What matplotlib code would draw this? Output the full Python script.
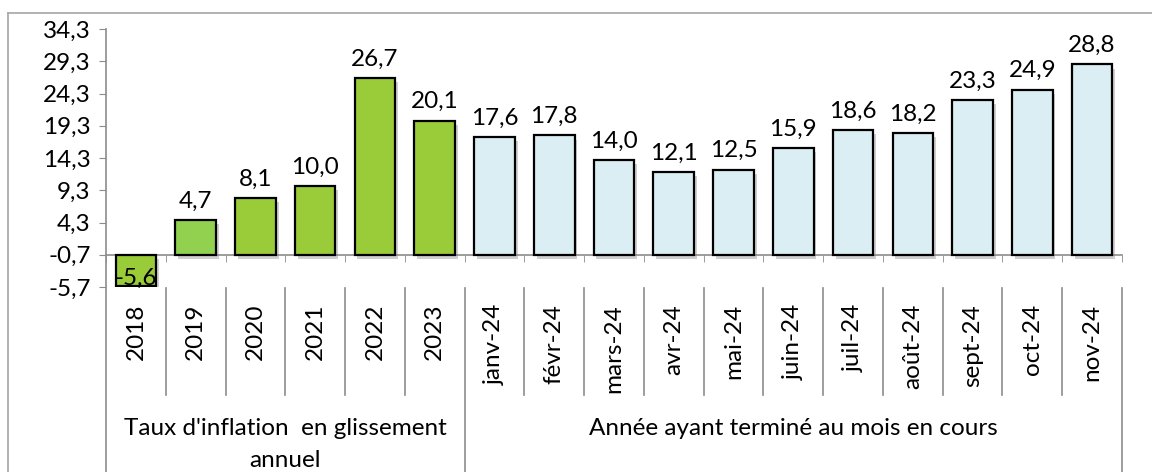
import numpy as np
import matplotlib.pyplot as plt
from matplotlib import patheffects as pe
from matplotlib.lines import Line2D

plt.rcParams['font.family'] = ['Lato', 'DejaVu Sans']

categories = ['2018', '2019', '2020', '2021', '2022', '2023',
              'janv-24', 'févr-24', 'mars-24', 'avr-24', 'mai-24', 'juin-24',
              'juil-24', 'août-24', 'sept-24', 'oct-24', 'nov-24']
values = [-5.6, 4.7, 8.1, 10.0, 26.7, 20.1,
          17.6, 17.8, 14.0, 12.1, 12.5, 15.9, 18.6, 18.2, 23.3, 24.9, 28.8]
groups = ["Taux d'inflation  en glissement\nannuel",
          "Année ayant terminé au mois en cours"]
group_sizes = [6, 11]
yticks = [-5.7, -0.7, 4.3, 9.3, 14.3, 19.3, 24.3, 29.3, 34.3]

base = -0.7
colors = ['#9ACB38', '#92D050'] + ['#9ACB38'] * 4 + ['#DAEEF3'] * 11
gray = '#8c8c8c'

fig = plt.figure(figsize=(11.52, 4.72), dpi=100)
W, H = 1152, 472
ax = fig.add_axes([106 / W, 1 - 287 / H, (1122 - 106) / W, (287 - 29) / H])

x = np.arange(len(values))
bars = ax.bar(x, np.array(values) - base, bottom=base, width=0.68,
              color=colors, edgecolor='black', linewidth=1.6, zorder=3)
for b in bars:
    b.set_path_effects([pe.SimplePatchShadow(offset=(2, -3), shadow_rgbFace='#777777', alpha=0.35),
                        pe.Normal()])

fs = 17.5
for xi, v in zip(x, values):
    lab = f'{v:.1f}'.replace('.', ',')
    if v < 0:
        ax.annotate(lab, (xi, v), xytext=(0, -2), textcoords='offset points',
                    ha='center', va='bottom', fontsize=fs, zorder=5)
    else:
        ax.annotate(lab, (xi, v), xytext=(0, 6), textcoords='offset points',
                    ha='center', va='bottom', fontsize=fs)

ax.set_xlim(-0.5, len(values) - 0.5)
ax.set_ylim(yticks[0], yticks[-1])
ax.set_yticks(yticks)
ax.set_yticklabels([f'{t:.1f}'.replace('.', ',') for t in yticks], fontsize=fs)
ax.tick_params(axis='y', length=5, color=gray, pad=6)

for s in ['top', 'right']:
    ax.spines[s].set_visible(False)
ax.spines['left'].set_color(gray)
ax.spines['left'].set_linewidth(1.2)
ax.spines['bottom'].set_position(('data', base))
ax.spines['bottom'].set_color(gray)
ax.spines['bottom'].set_linewidth(1.2)
ax.set_xticks([])
ax.set_xticks(np.arange(len(values) + 1) - 0.5, minor=True)
ax.tick_params(axis='x', which='minor', length=5, color=gray)

# category labels and separators below the plot
tr = ax.get_xaxis_transform()
def yfrac(py):
    return (287 - py) / 258

for xi, c in zip(x, categories):
    ax.text(xi, yfrac(304), c, rotation=90, ha='center', va='top',
            fontsize=fs, transform=tr)

bounds = np.cumsum([0] + group_sizes) - 0.5
for i in range(len(values) + 1):
    xb = i - 0.5
    y_end = yfrac(472) if xb in bounds else yfrac(395)
    ax.add_line(Line2D([xb, xb], [yfrac(288), y_end], transform=tr,
                       color=gray, lw=1.2, clip_on=False))

start = 0
for g, n in zip(groups, group_sizes):
    cx = start + (n - 1) / 2
    ax.text(cx, yfrac(418), g, ha='center', va='top', fontsize=fs,
            linespacing=1.65, transform=tr)
    start += n

# chart border
fig.add_artist(Line2D([8 / W, 8 / W], [0, 1 - 13 / H], color='#a6a6a6', lw=1.2))
fig.add_artist(Line2D([8 / W, 1], [1 - 13 / H, 1 - 13 / H], color='#a6a6a6', lw=1.2))

fig.savefig('out.png', dpi=100)
